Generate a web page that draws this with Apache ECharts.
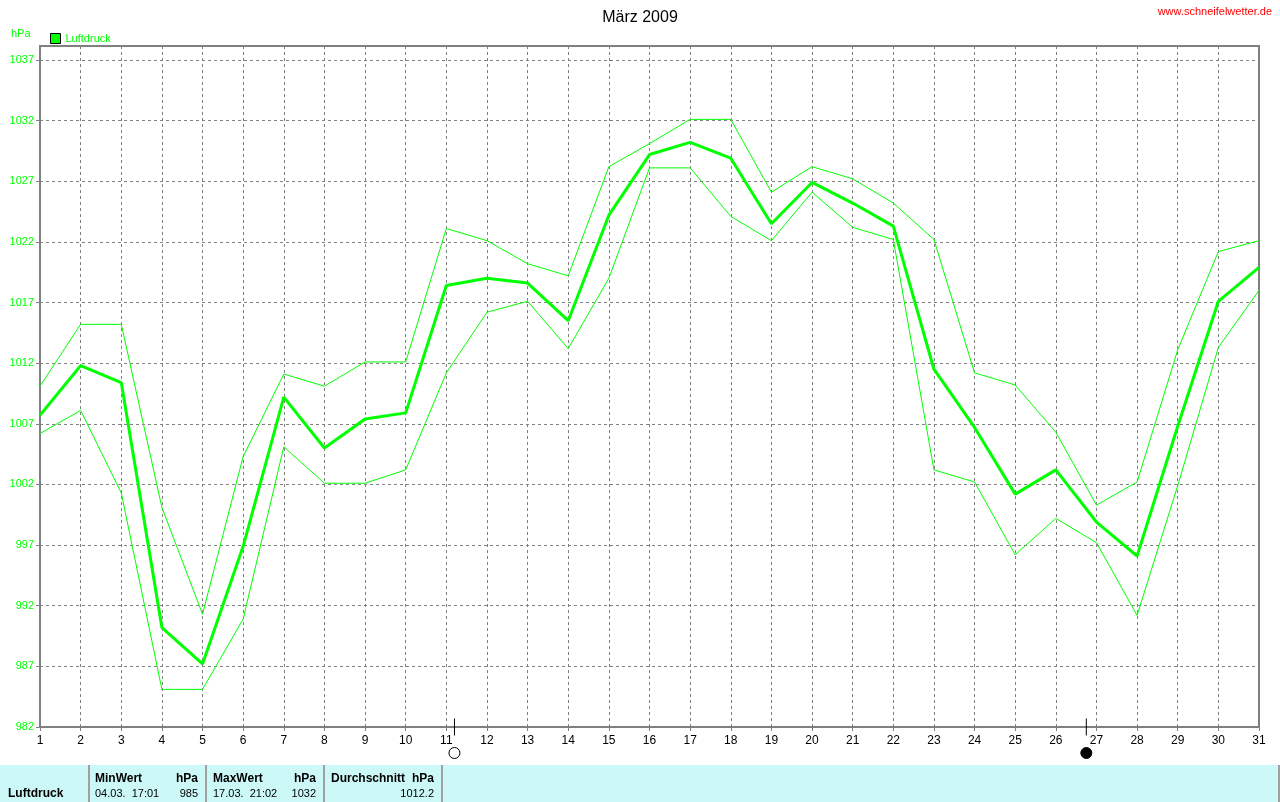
<!DOCTYPE html>
<html>
<head>
<meta charset="utf-8">
<style>
html,body{margin:0;padding:0;background:#fff;}
#chart{width:1280px;height:802px;}
</style>
<script src="https://cdn.jsdelivr.net/npm/echarts@6/dist/echarts.min.js"></script>
</head>
<body>
<div id="chart"></div>
<script>
// ---- data ----
var days = [1,2,3,4,5,6,7,8,9,10,11,12,13,14,15,16,17,18,19,20,21,22,23,24,25,26,27,28,29,30,31];
var meanValues = [1007.7,1011.8,1010.4,990.2,987.2,996.9,1009.2,1005.0,1007.4,1007.9,1018.4,1019.0,1018.6,1015.5,1024.2,1029.2,1030.2,1028.9,1023.5,1026.9,1025.2,1023.3,1011.5,1006.7,1001.2,1003.2,998.9,996.1,1006.8,1017.1,1019.9];
var maxValues = [1010.1,1015.2,1015.2,1000.1,991.3,1004.3,1011.1,1010.1,1012.1,1012.1,1023.1,1022.1,1020.2,1019.2,1028.2,1030.1,1032.1,1032.1,1026.1,1028.2,1027.2,1025.2,1022.2,1011.2,1010.2,1006.3,1000.3,1002.2,1013.1,1021.2,1022.1];
var minValues = [1006.2,1008.1,1001.3,985.1,985.1,990.9,1005.1,1002.1,1002.1,1003.2,1011.2,1016.2,1017.1,1013.2,1019.0,1028.1,1028.1,1024.1,1022.1,1026.1,1023.2,1022.2,1003.2,1002.2,996.2,999.2,997.2,991.2,1001.9,1013.3,1018.0];
var moonDays = [11.2, 26.75];
var moonTypes = ['full', 'new'];
var seriesName = 'Luftdruck';
var titleText = 'März 2009';
var unitText = 'hPa';
var siteText = 'www.schneifelwetter.de';
var tableHeaders = ['MinWert', 'MaxWert', 'Durchschnitt'];
var tableTimes = ['04.03.  17:01', '17.03.  21:02'];
var tableValues = ['985', '1032', '1012.2'];

// ---- chart ----
var green = '#00ff00';
var gray = '#808080';
var font = '"Liberation Sans", Arial, sans-serif';
function pairs(vals){ return days.map(function(d,i){ return [d, vals[i]]; }); }

var chart = echarts.init(document.getElementById('chart'), null, {renderer:'canvas'});

var moonFull = [], moonNew = [];
moonDays.forEach(function(d,i){ (moonTypes[i]==='full'?moonFull:moonNew).push([d, 982]); });
var moonTicks = moonDays.map(function(d){ return [d, 982]; });

var cyan = '#ccf8f8';
var divColor = '#a0a0a0';
var B = 'bold 12px ' + font, N = '11px ' + font;
function txt(x, y, s, f, align){ return {type:'text', x:x, y:y, style:{text:s, fill:'#000', font:f, verticalAlign:'middle', align:align||'left'}}; }
var graphics = [
  {type:'text', left:11, top:28, style:{text:unitText, fill:green, font:'11px '+font}},
  {type:'text', right:8, top:6, style:{text:siteText, fill:'#ff0000', font:'11px '+font}},
  {type:'rect', shape:{x:0, y:765, width:1280, height:37}, style:{fill:cyan}},
  {type:'rect', shape:{x:88, y:765, width:2, height:37}, style:{fill:divColor}},
  {type:'rect', shape:{x:205, y:765, width:2, height:37}, style:{fill:divColor}},
  {type:'rect', shape:{x:323, y:765, width:2, height:37}, style:{fill:divColor}},
  {type:'rect', shape:{x:441, y:765, width:2, height:37}, style:{fill:divColor}},
  {type:'rect', shape:{x:1278, y:765, width:2, height:37}, style:{fill:divColor}},
  txt(8, 794, seriesName, B),
  txt(95, 779, tableHeaders[0], B),
  txt(198, 779, unitText, B, 'right'),
  txt(95, 794, tableTimes[0], N),
  txt(198, 794, tableValues[0], N, 'right'),
  txt(213, 779, tableHeaders[1], B),
  txt(316, 779, unitText, B, 'right'),
  txt(213, 794, tableTimes[1], N),
  txt(316, 794, tableValues[1], N, 'right'),
  txt(331, 779, tableHeaders[2], B),
  txt(434, 779, unitText, B, 'right'),
  txt(434, 794, tableValues[2], N, 'right')
];

var option = {
  animation: false,
  backgroundColor: '#fff',
  title: {text: titleText, left: 'center', top: 5, textStyle:{fontFamily:font, fontSize:16, fontWeight:'normal', color:'#000'}},
  legend: {
    data: [{name: seriesName, itemStyle:{color:green, borderColor:'#000', borderWidth:1}}],
    left: 45, top: 28, icon: 'rect', itemWidth: 10, itemHeight: 10,
    textStyle:{color:green, fontFamily:font, fontSize:11},
    selectedMode: false
  },
  grid: {left:40, right:21, top:46, bottom:75, show:true, borderColor:gray, borderWidth:2, backgroundColor:'#fff'},
  xAxis: {
    type:'value', min:1, max:31, interval:1,
    axisLine:{show:true, lineStyle:{color:gray, width:2}},
    axisTick:{show:true, length:4, lineStyle:{color:gray}},
    axisLabel:{color:'#000', fontFamily:font, fontSize:12, margin:8},
    splitLine:{show:true, lineStyle:{color:gray, type:[3,3], width:1}}
  },
  yAxis: {
    type:'value', min:982, max:1038.15, interval:5,
    axisLine:{show:true, lineStyle:{color:gray, width:2}},
    axisTick:{show:true, length:4, lineStyle:{color:gray}},
    axisLabel:{color:green, fontFamily:font, fontSize:11, margin:6, showMaxLabel:false,
      formatter:function(v){ return (Math.abs((v-982)%5) < 1e-6) ? String(v) : ''; }},
    splitLine:{show:true, lineStyle:{color:gray, type:[3,3], width:1}}
  },
  graphic: graphics,
  series: [
    {name:'max', type:'line', data:pairs(maxValues), symbol:'none', lineStyle:{color:green, width:1}, itemStyle:{color:green}, z:3},
    {name:'min', type:'line', data:pairs(minValues), symbol:'none', lineStyle:{color:green, width:1}, itemStyle:{color:green}, z:3},
    {name:seriesName, type:'line', data:pairs(meanValues), symbol:'none', lineStyle:{color:green, width:3}, itemStyle:{color:green}, z:4},
    {name:'moonTick', type:'scatter', data:moonTicks, symbol:'rect', symbolSize:[1,17], itemStyle:{color:'#000', opacity:1}, clip:false, z:6, silent:true},
    {name:'moonFull', type:'scatter', data:moonFull, symbol:'circle', symbolSize:11, symbolOffset:[0,26], itemStyle:{color:'#fff', borderColor:'#000', borderWidth:1, opacity:1}, clip:false, z:6, silent:true},
    {name:'moonNew', type:'scatter', data:moonNew, symbol:'circle', symbolSize:11, symbolOffset:[0,26], itemStyle:{color:'#000', borderColor:'#000', borderWidth:1, opacity:1}, clip:false, z:6, silent:true}
  ]
};
chart.setOption(option);
</script>
</body>
</html>
